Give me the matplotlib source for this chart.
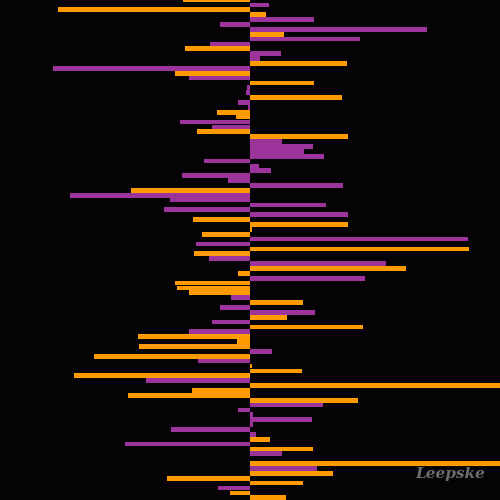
import matplotlib
matplotlib.use("Agg")
import matplotlib.pyplot as plt

# signed bar lengths (negative = left of centre), one per row from top to bottom
values = [-67, 19, -192, 16, 64, -30, 177, 34, 110, -40,
          -65, 31, 10, 97, -197, -75, -61, 64, -3, -4,
          92, -12, -2, -33, -14, -70, -38, -53, 98, 32,
          63, 54, 74, -46, 9, 21, -68, -22, 93, -119,
          -180, -80, 76, -86, 98, -57, 98, 2, -48, 218,
          -54, 219, -56, -41, 136, 156, -12, 115, -75, -73,
          -61, -19, 53, -30, 65, 37, -38, 113, -61, -112,
          -13, -111, 22, -156, -52, 2, 52, -176, -104, 260,
          -58, -122, 108, 73, -12, 3, 62, 3, -79, 6,
          20, -125, 63, 32, 0, 260, 67, 83, -83, 53,
          -32, -20, 36]
# O = orange, P = purple
kinds = list("OPOOPPPOPP"
             "OPPOPOPOPP"
             "OPPOOPPOOP"
             "PPPPPPPPPO"
             "PPPPPOOOOP"
             "POOPPOOPOO"
             "OPOPPOPOPO"
             "OOPOPOOOPO"
             "OOOPPPPPPP"
             "OPOPPOPOOO"
             "POO")

palette = {"O": "#ff9a00", "P": "#9c349c"}

fig = plt.figure(figsize=(5, 5), dpi=100, facecolor="#050305")
ax = fig.add_axes([0, 0, 1, 1])
ax.set_facecolor("#050305")

rows = list(range(len(values)))
ax.barh(rows, values, height=0.97,
        color=[palette[k] for k in kinds], linewidth=0)

ax.set_xlim(-250, 250)
ax.set_ylim(102.46, 0)
ax.axis("off")

fig.text(0.9, 0.052, "Leepske", color="#6e6e6e", fontsize=11,
         family="DejaVu Serif", style="italic", fontweight="bold",
         ha="center", va="center")

fig.savefig("out.png", dpi=100, facecolor=fig.get_facecolor())
